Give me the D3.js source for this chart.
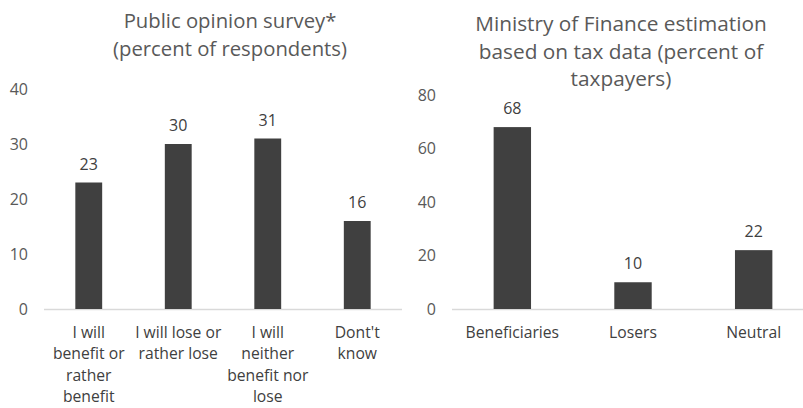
<!DOCTYPE html>
<html>
<head>
<meta charset="utf-8">
<script src="https://cdn.jsdelivr.net/npm/d3@7"></script>
<style>
  body { margin: 0; background: #fff; }
  svg text { font-family: "Open Sans", Lato, sans-serif; }
</style>
</head>
<body>
<div id="chart"></div>
<script>
// left panel: public opinion survey
var surveyTitle = ["Public opinion survey*", "(percent of respondents)"];
var surveyCategories = [
  ["I will", "benefit or", "rather", "benefit"],
  ["I will lose or", "rather lose"],
  ["I will", "neither", "benefit nor", "lose"],
  ["Dont't", "know"]
];
var surveyValues = [23, 30, 31, 16];
var surveyTicks = [0, 10, 20, 30, 40];

// right panel: ministry of finance estimation
var mofTitle = ["Ministry of Finance estimation", "based on tax data (percent of", "taxpayers)"];
var mofCategories = [["Beneficiaries"], ["Losers"], ["Neutral"]];
var mofValues = [68, 10, 22];
var mofTicks = [0, 20, 40, 60, 80];

var svg = d3.select("#chart")
  .append("svg")
  .attr("width", 803)
  .attr("height", 408);

function drawPanel(opts) {
  var g = svg.append("g");

  // title
  g.append("text")
    .attr("x", opts.titleX)
    .attr("y", opts.titleY)
    .attr("text-anchor", "middle")
    .attr("fill", "#595959")
    .attr("font-size", opts.titleSize)
    .selectAll("tspan")
    .data(opts.title)
    .enter().append("tspan")
    .attr("x", opts.titleX)
    .attr("dy", function (d, i) { return i == 0 ? 0 : 27.5; })
    .text(function (d) { return d; });

  var x = d3.scaleBand()
    .domain(d3.range(opts.values.length))
    .range([opts.x0, opts.x1])
    .paddingInner(opts.pad)
    .paddingOuter(opts.pad / 2);

  var y = d3.scaleLinear()
    .domain([0, opts.max])
    .range([309, opts.top]);

  // y tick labels, no axis line
  var yAxis = g.append("g")
    .attr("transform", "translate(" + opts.yLabelX + ",0)")
    .call(d3.axisLeft(y).tickValues(opts.ticks).tickSize(0).tickPadding(0));
  yAxis.select(".domain").remove();
  yAxis.selectAll("text")
    .attr("font-size", 16)
    .attr("fill", "#595959")
    .style("font-family", "'Open Sans', Lato, sans-serif");

  // baseline
  g.append("line")
    .attr("x1", opts.lineX0)
    .attr("x2", opts.lineX1)
    .attr("y1", y(0) + 0.5)
    .attr("y2", y(0) + 0.5)
    .attr("stroke", "#d9d9d9")
    .attr("stroke-width", 1.5);

  // bars
  g.selectAll("rect.bar")
    .data(opts.values)
    .enter().append("rect")
    .attr("class", "bar")
    .attr("x", function (d, i) { return x(i); })
    .attr("width", x.bandwidth())
    .attr("y", function (d) { return y(d); })
    .attr("height", function (d) { return y(0) - y(d); })
    .attr("fill", "#404040");

  // value labels
  g.selectAll("text.val")
    .data(opts.values)
    .enter().append("text")
    .attr("class", "val")
    .attr("x", function (d, i) { return x(i) + x.bandwidth() / 2; })
    .attr("y", function (d) { return y(d) - 13; })
    .attr("text-anchor", "middle")
    .attr("font-size", 16)
    .attr("fill", "#404040")
    .text(function (d) { return d; });

  // category labels
  var cats = g.selectAll("text.cat")
    .data(opts.categories)
    .enter().append("text")
    .attr("class", "cat")
    .attr("text-anchor", "middle")
    .attr("font-size", 15.7)
    .attr("fill", "#404040")
    .attr("y", 338);
  cats.each(function (lines, i) {
    var cx = x(i) + x.bandwidth() / 2;
    d3.select(this).selectAll("tspan")
      .data(lines)
      .enter().append("tspan")
      .attr("x", cx)
      .attr("dy", function (d, j) { return j == 0 ? 0 : 21.3; })
      .text(function (d) { return d; });
  });
}

drawPanel({
  title: surveyTitle, titleX: 230, titleY: 28, titleSize: 20.3,
  categories: surveyCategories, values: surveyValues, ticks: surveyTicks,
  max: 40, top: 89, x0: 44, x1: 402, pad: 0.7,
  yLabelX: 28, lineX0: 44, lineX1: 402
});

drawPanel({
  title: mofTitle, titleX: 621, titleY: 31, titleSize: 20.8,
  categories: mofCategories, values: mofValues, ticks: mofTicks,
  max: 80, top: 95, x0: 452, x1: 814, pad: 0.69,
  yLabelX: 436, lineX0: 452, lineX1: 803
});
</script>
</body>
</html>
